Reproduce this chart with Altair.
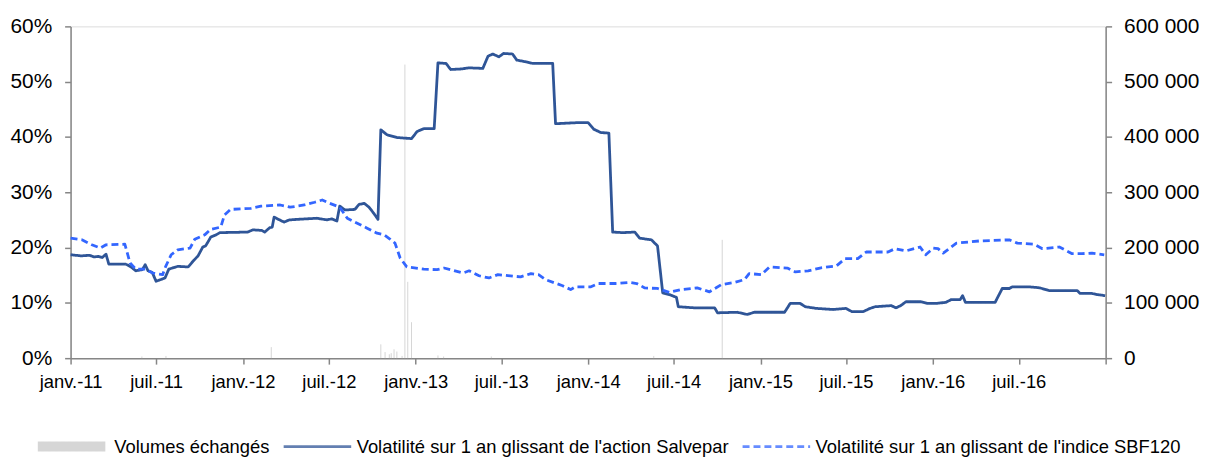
import altair as alt
import pandas as pd

SERIES = [
    "Volumes échangés",
    "Volatilité sur 1 an glissant de l'action Salvepar",
    "Volatilité sur 1 an glissant de l'indice SBF120",
]

# Volatility of Salvepar share (%)
salv_dates = [
    "2011-01-01", "2011-01-23", "2011-02-10", "2011-02-20", "2011-03-01", "2011-03-09", "2011-03-17",
    "2011-03-23", "2011-04-28", "2011-05-09", "2011-05-19", "2011-06-02", "2011-06-08", "2011-06-14",
    "2011-06-23", "2011-07-01", "2011-07-20", "2011-07-28", "2011-08-16", "2011-09-07", "2011-09-17",
    "2011-09-28", "2011-10-08", "2011-10-14", "2011-10-25", "2011-11-05", "2011-11-13", "2012-01-11",
    "2012-01-22", "2012-02-10", "2012-02-16", "2012-02-27", "2012-03-03", "2012-03-07", "2012-03-28",
    "2012-04-08", "2012-04-25", "2012-06-06", "2012-06-27", "2012-07-07", "2012-07-18", "2012-07-24",
    "2012-08-04", "2012-08-25", "2012-09-03", "2012-09-14", "2012-09-24", "2012-10-04", "2012-10-13",
    "2012-10-19", "2012-11-01", "2012-11-22", "2012-12-23", "2013-01-04", "2013-01-18", "2013-02-09",
    "2013-02-17", "2013-03-06", "2013-03-16", "2013-04-07", "2013-04-24", "2013-05-23", "2013-06-03",
    "2013-06-13", "2013-06-26", "2013-07-06", "2013-07-25", "2013-08-03", "2013-08-22", "2013-09-06",
    "2013-10-18", "2013-10-24", "2013-12-12", "2014-01-01", "2014-01-13", "2014-01-28", "2014-02-14",
    "2014-02-22", "2014-03-15", "2014-04-10", "2014-04-20", "2014-05-15", "2014-05-28", "2014-06-08",
    "2014-06-22", "2014-07-07", "2014-07-11", "2014-08-14", "2014-09-26", "2014-10-02", "2014-11-13",
    "2014-12-04", "2014-12-19", "2015-02-21", "2015-03-05", "2015-03-26", "2015-04-06", "2015-04-29",
    "2015-06-04", "2015-07-01", "2015-07-14", "2015-08-06", "2015-08-21", "2015-09-01", "2015-10-05",
    "2015-10-15", "2015-10-25", "2015-11-05", "2015-12-07", "2015-12-21", "2016-01-08", "2016-01-29",
    "2016-02-09", "2016-02-28", "2016-03-04", "2016-03-10", "2016-05-12", "2016-05-27", "2016-06-11",
    "2016-06-17", "2016-07-23", "2016-08-05", "2016-08-15", "2016-09-04", "2016-11-02", "2016-11-08",
    "2016-12-03", "2016-12-14", "2016-12-31",
]
salv_vals = [
    18.7, 18.5, 18.6, 18.3, 18.4, 18.2, 18.8,
    17.0, 17.0, 16.5, 15.8, 16.0, 16.9, 15.8,
    15.5, 13.9, 14.5, 16.1, 16.6, 16.5, 17.5,
    18.5, 20.1, 20.3, 21.9, 22.3, 22.7, 22.8,
    23.2, 23.1, 22.8, 23.6, 23.7, 25.5, 24.6,
    25.0, 25.1, 25.3, 25.0, 25.2, 24.8, 27.5,
    26.8, 26.9, 27.8, 28.0, 27.3, 26.2, 25.1,
    41.3, 40.4, 39.9, 39.7, 41.0, 41.5, 41.5,
    53.4, 53.3, 52.2, 52.3, 52.5, 52.4, 54.6,
    55.0, 54.5, 55.1, 55.0, 53.9, 53.6, 53.3,
    53.3, 42.4, 42.6, 42.6, 41.4, 40.8, 40.7,
    22.8, 22.7, 22.8, 21.7, 21.4, 20.3, 11.8,
    11.5, 11.0, 9.3, 9.1, 9.1, 8.2, 8.3,
    7.9, 8.3, 8.3, 9.9, 9.9, 9.3, 9.0,
    8.8, 9.0, 8.4, 8.4, 9.0, 9.3, 9.5,
    9.1, 9.5, 10.2, 10.2, 9.9, 9.9, 10.1,
    10.6, 10.6, 11.3, 10.1, 10.1, 12.6, 12.6,
    12.9, 12.9, 12.8, 12.7, 12.2, 12.2, 11.7,
    11.7, 11.5, 11.3,
]

# Volatility of SBF120 index (%)
sbf_dates = [
    "2011-01-01", "2011-01-25", "2011-02-15", "2011-03-05", "2011-03-17", "2011-04-26", "2011-05-07",
    "2011-05-19", "2011-06-08", "2011-06-24", "2011-07-15", "2011-07-21", "2011-08-02", "2011-08-16",
    "2011-09-11", "2011-09-21", "2011-10-12", "2011-10-25", "2011-11-15", "2011-11-23", "2011-12-06",
    "2012-01-18", "2012-02-08", "2012-03-20", "2012-04-10", "2012-05-10", "2012-06-01", "2012-06-17",
    "2012-07-03", "2012-07-24", "2012-08-09", "2012-08-30", "2012-09-20", "2012-10-11", "2012-10-26",
    "2012-11-08", "2012-11-18", "2012-11-29", "2012-12-13", "2013-01-18", "2013-02-15", "2013-03-02",
    "2013-04-11", "2013-04-24", "2013-05-15", "2013-06-05", "2013-06-24", "2013-08-11", "2013-09-02",
    "2013-09-18", "2013-10-03", "2013-11-08", "2013-11-25", "2013-12-05", "2014-01-07", "2014-01-23",
    "2014-02-28", "2014-03-30", "2014-04-14", "2014-05-01", "2014-05-28", "2014-06-22", "2014-07-17",
    "2014-08-20", "2014-09-15", "2014-10-10", "2014-11-07", "2014-11-28", "2014-12-08", "2015-01-03",
    "2015-01-20", "2015-02-27", "2015-03-16", "2015-04-12", "2015-05-07", "2015-06-11", "2015-06-29",
    "2015-07-26", "2015-08-13", "2015-09-28", "2015-10-13", "2015-11-05", "2015-12-05", "2015-12-17",
    "2016-01-02", "2016-01-12", "2016-01-23", "2016-02-20", "2016-04-09", "2016-06-11", "2016-06-28",
    "2016-08-03", "2016-08-20", "2016-09-25", "2016-10-22", "2016-11-12", "2016-12-03", "2016-12-29",
]
sbf_vals = [
    21.7, 21.4, 20.5, 19.9, 20.5, 20.6, 17.2,
    16.1, 16.1, 15.4, 15.1, 16.5, 18.7, 19.6,
    19.9, 21.5, 22.3, 23.3, 23.7, 25.9, 26.9,
    27.1, 27.5, 27.7, 27.3, 27.7, 28.2, 28.6,
    28.0, 27.3, 25.3, 24.4, 23.5, 22.6, 22.3,
    21.5, 20.8, 18.1, 16.5, 16.1, 16.0, 16.3,
    15.4, 15.8, 14.9, 14.5, 15.1, 14.7, 15.3,
    15.1, 14.2, 13.1, 12.4, 12.9, 12.9, 13.5,
    13.5, 13.7, 13.5, 12.7, 12.6, 11.9, 12.4,
    12.7, 12.0, 13.3, 13.7, 14.2, 15.3, 15.1,
    16.5, 16.3, 15.6, 15.8, 16.3, 16.7, 18.0,
    18.0, 19.2, 19.2, 19.8, 19.4, 20.1, 18.7,
    19.9, 19.8, 19.0, 20.8, 21.2, 21.4, 20.8,
    20.6, 19.8, 20.1, 18.9, 18.9, 19.0, 18.7,
]

# Traded volumes (shares)
vol_dates = [
    "2011-06-01", "2011-07-22", "2012-03-01", "2012-10-19", "2012-10-28", "2012-11-06",
    "2012-11-10", "2012-11-16", "2012-11-22", "2012-12-03", "2012-12-09", "2012-12-15",
    "2012-12-23", "2013-02-17", "2013-03-01", "2013-06-10", "2014-05-20", "2014-10-12",
]
vol_vals = [
    3000, 4000, 20000, 25000, 11000, 7000,
    9000, 16000, 12000, 4000, 531000, 138000,
    65000, 5000, 3000, 3000, 4000, 214000,
]

tick_dates = [
    "2011-01-01", "2011-07-01", "2012-01-01", "2012-07-01", "2013-01-01", "2013-07-01",
    "2014-01-01", "2014-07-01", "2015-01-01", "2015-07-01", "2016-01-01", "2016-07-01", "2017-01-01",
]

COLORS = ["#c8c8c8", "#2f5597", "#3366ff"]
DASHES = [[1, 0], [1, 0], [7, 4]]
WIDTHS = [10, 2.8, 2.8]
FONT = "Liberation Sans"
AXIS_GREY = "#868686"


def ms(s):
    return int(pd.Timestamp(s, tz="UTC").value // 10**6)


lines = pd.concat([
    pd.DataFrame({"date": salv_dates, "value": [v / 100 for v in salv_vals], "series": SERIES[1]}),
    pd.DataFrame({"date": sbf_dates, "value": [v / 100 for v in sbf_vals], "series": SERIES[2]}),
])
volumes = pd.DataFrame({"date": vol_dates, "volume": vol_vals, "series": SERIES[0]})

x_axis = alt.Axis(
    values=[ms(d) for d in tick_dates],
    labelExpr="utcyear(datum.value) >= 2017 ? '' : (utcmonth(datum.value) == 0 ? 'janv.-' : 'juil.-') + utcFormat(datum.value, '%y')",
    title=None, grid=False, labelFlush=False, labelOverlap=False,
    labelFont=FONT, labelFontSize=18.5, labelColor="#000000", labelPadding=9,
    domainColor=AXIS_GREY, domainWidth=1.5, tickColor=AXIS_GREY, tickWidth=1.5, tickSize=6,
)
x_enc = alt.X(
    "date:T",
    scale=alt.Scale(type="utc", domain=[ms("2011-01-01"), ms("2017-01-01")]),
    axis=x_axis,
)

legend = alt.Legend(
    title=None, orient="none", legendX=-38, legendY=411, direction="horizontal",
    symbolType="stroke", symbolSize=68 * 68, clipHeight=24,
    labelFont=FONT, labelFontSize=18.5, labelColor="#000000", labelLimit=1000,
    columnPadding=12, labelOffset=4,
)
color_enc = alt.Color("series:N", scale=alt.Scale(domain=SERIES, range=COLORS), legend=legend)
dash_enc = alt.StrokeDash("series:N", scale=alt.Scale(domain=SERIES, range=DASHES), legend=legend)
width_enc = alt.StrokeWidth("series:N", scale=alt.Scale(type="ordinal", domain=SERIES, range=WIDTHS), legend=legend)

vol_layer = alt.Chart(volumes).mark_rule(strokeWidth=1, opacity=0.75).encode(
    x=x_enc,
    y=alt.Y(
        "volume:Q",
        scale=alt.Scale(domain=[0, 600000]),
        axis=alt.Axis(
            orient="right", values=[0, 100000, 200000, 300000, 400000, 500000, 600000],
            labelExpr="replace(format(datum.value, ','), ',', ' ')",
            title=None, grid=False, labelFont=FONT, labelFontSize=21, labelColor="#000000",
            labelPadding=12, domainColor=AXIS_GREY, domainWidth=1.5, tickColor=AXIS_GREY,
            tickWidth=1.5, tickSize=6,
        ),
    ),
    y2=alt.datum(0),
    color=color_enc,
)

line_layer = alt.Chart(lines).mark_line(strokeCap="butt", strokeJoin="round").encode(
    x=x_enc,
    y=alt.Y(
        "value:Q",
        scale=alt.Scale(domain=[0, 0.6]),
        axis=alt.Axis(
            orient="left", values=[0, 0.1, 0.2, 0.3, 0.4, 0.5, 0.6], format=".0%",
            title=None, grid=False, labelFont=FONT, labelFontSize=21, labelColor="#000000",
            labelPadding=13, domainColor=AXIS_GREY, domainWidth=1.5, tickColor=AXIS_GREY,
            tickWidth=1.5, tickSize=6,
        ),
    ),
    color=color_enc,
    strokeDash=dash_enc,
    strokeWidth=width_enc,
)

chart = alt.layer(vol_layer, line_layer).resolve_scale(y="independent").properties(
    width=1042, height=334,
    autosize=alt.AutoSizeParams(type="none"),
    padding={"left": 63, "top": 17, "right": 98, "bottom": 98},
).configure_view(strokeWidth=0).configure(background="white")

chart.save("out.html", embed_options={"renderer": "svg", "actions": False})
